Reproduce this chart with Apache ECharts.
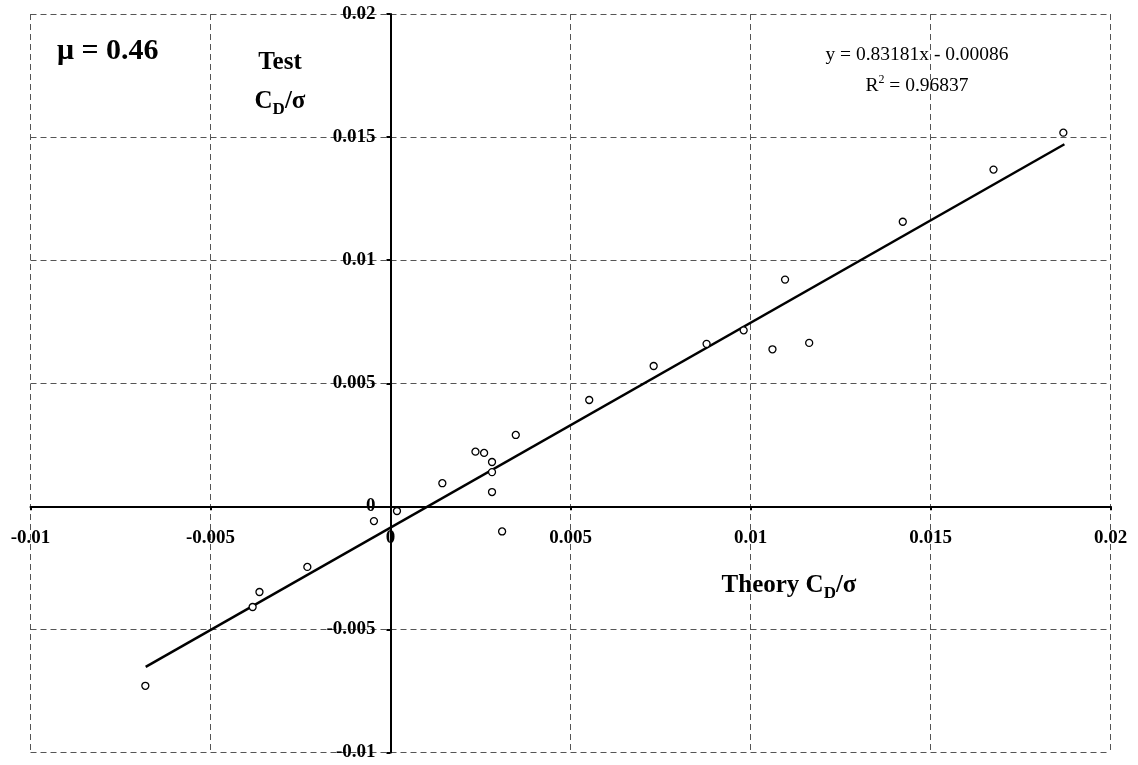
<!DOCTYPE html>
<html>
<head>
<meta charset="utf-8">
<script src="https://cdn.jsdelivr.net/npm/echarts@6/dist/echarts.min.js"></script>
<style>
html, body { margin: 0; padding: 0; background: #fff; }
#ct1 { width: 1138px; height: 765px; }
</style>
</head>
<body>
<div id="ct1"></div>
<script>
// measured points: theory vs test C_D/sigma
var theoryX = [-0.00681, -0.00383, -0.00364, -0.00231, -0.00046, 0.00018, 0.00144, 0.00236, 0.00260,
	0.00282, 0.00282, 0.00282, 0.00310, 0.00348, 0.00552, 0.00731, 0.00878, 0.00981, 0.01061,
	0.01096, 0.01163, 0.01423, 0.01675, 0.01869];
var testY = [-0.00729, -0.00409, -0.00348, -0.00246, -0.00060, -0.00019, 0.00094, 0.00222, 0.00217,
	0.00180, 0.00139, 0.00058, -0.00102, 0.00290, 0.00432, 0.00570, 0.00660, 0.00715, 0.00638,
	0.00921, 0.00664, 0.01156, 0.01368, 0.01518];
// fitted line end points
var trendX = [-0.0068, 0.01872];
var trendY = [-0.00652, 0.01471];
var xTicks = [-0.01, 0.02, 0.005];
var yTicks = [-0.01, 0.02, 0.005];

var serif = '"Liberation Serif", "Times New Roman", serif';
var gridStyle = { color: '#555', width: 1, type: [6, 4] };

var points = [];
for (var i = 0; i < theoryX.length; i++) {
	points.push([theoryX[i], testY[i]]);
}
var trend = [];
for (var j = 0; j < trendX.length; j++) {
	trend.push([trendX[j], trendY[j]]);
}

function fmt(v) {
	return String(+v.toFixed(3));
}

// grid box, the axes cross at zero (1/3 in from the left and bottom)
var gl = 30.5, gr = 27.5, gt = 14, gb = 12.5;
var gw = 1138 - gl - gr, gh = 765 - gt - gb;

var option1 = {
	animation: false,
	backgroundColor: '#fff',
	grid: { left: gl, right: gr, top: gt, bottom: gb, containLabel: false, outerBoundsMode: 'none' },
	xAxis: {
		type: 'value',
		min: xTicks[0], max: xTicks[1], interval: xTicks[2],
		offset: -gh / 3,
		axisLine: { onZero: false, lineStyle: { color: '#000', width: 2 } },
		axisTick: { show: true, inside: false, length: 4, lineStyle: { color: '#000', width: 2 } },
		axisLabel: { formatter: fmt, margin: 22, fontFamily: serif, fontWeight: 'bold', fontSize: 19, color: '#000', hideOverlap: false },
		splitLine: { show: true, lineStyle: gridStyle }
	},
	yAxis: {
		type: 'value',
		min: yTicks[0], max: yTicks[1], interval: yTicks[2],
		offset: -gw / 3,
		axisLine: { onZero: false, lineStyle: { color: '#000', width: 2 } },
		axisTick: { show: true, inside: false, length: 4, lineStyle: { color: '#000', width: 2 } },
		axisLabel: { formatter: fmt, margin: 15, fontFamily: serif, fontWeight: 'bold', fontSize: 19, color: '#000', hideOverlap: false },
		splitLine: { show: true, lineStyle: gridStyle }
	},
	series: [{
		type: 'line',
		data: trend,
		symbol: 'none',
		lineStyle: { color: '#000', width: 2.5 },
		z: 3
	}, {
		type: 'scatter',
		data: points,
		symbol: 'circle',
		symbolSize: 7,
		itemStyle: { color: '#fff', borderColor: '#000', borderWidth: 1.3, opacity: 1 },
		z: 4
	}],
	graphic: [{
		type: 'text', x: 57, y: 51,
		style: { text: 'μ = 0.46', font: 'bold 30px ' + serif, fill: '#000', verticalAlign: 'middle' }
	}, {
		type: 'text', x: 280, y: 63,
		style: { text: 'Test', font: 'bold 25px ' + serif, fill: '#000', align: 'center', verticalAlign: 'middle' }
	}, {
		type: 'text', x: 280, y: 100,
		style: {
			text: '{a|C}{s|D}{a|/σ}', align: 'center', verticalAlign: 'middle',
			rich: {
				a: { font: 'bold 25px ' + serif, fill: '#000', verticalAlign: 'bottom', lineHeight: 28 },
				s: { font: 'bold 17px ' + serif, fill: '#000', verticalAlign: 'bottom', lineHeight: 20, padding: [0, 0, -4, 0] }
			}
		}
	}, {
		type: 'text', x: 789, y: 584,
		style: {
			text: '{a|Theory C}{s|D}{a|/σ}', align: 'center', verticalAlign: 'middle',
			rich: {
				a: { font: 'bold 25px ' + serif, fill: '#000', verticalAlign: 'bottom', lineHeight: 28 },
				s: { font: 'bold 17px ' + serif, fill: '#000', verticalAlign: 'bottom', lineHeight: 20, padding: [0, 0, -4, 0] }
			}
		}
	}, {
		type: 'text', x: 917, y: 55,
		style: { text: 'y = 0.83181x - 0.00086', font: '19.5px ' + serif, fill: '#000', align: 'center', verticalAlign: 'middle' }
	}, {
		type: 'text', x: 917, y: 85,
		style: {
			text: '{a|R}{p|2}{a| = 0.96837}', align: 'center', verticalAlign: 'middle',
			rich: {
				a: { font: '19.5px ' + serif, fill: '#000', verticalAlign: 'bottom', lineHeight: 22 },
				p: { font: '12px ' + serif, fill: '#000', verticalAlign: 'top', lineHeight: 22, padding: [0, 0, 8, 0] }
			}
		}
	}]
};

var myChart1 = echarts.init(document.getElementById('ct1'));
myChart1.setOption(option1, true);
</script>
</body>
</html>
